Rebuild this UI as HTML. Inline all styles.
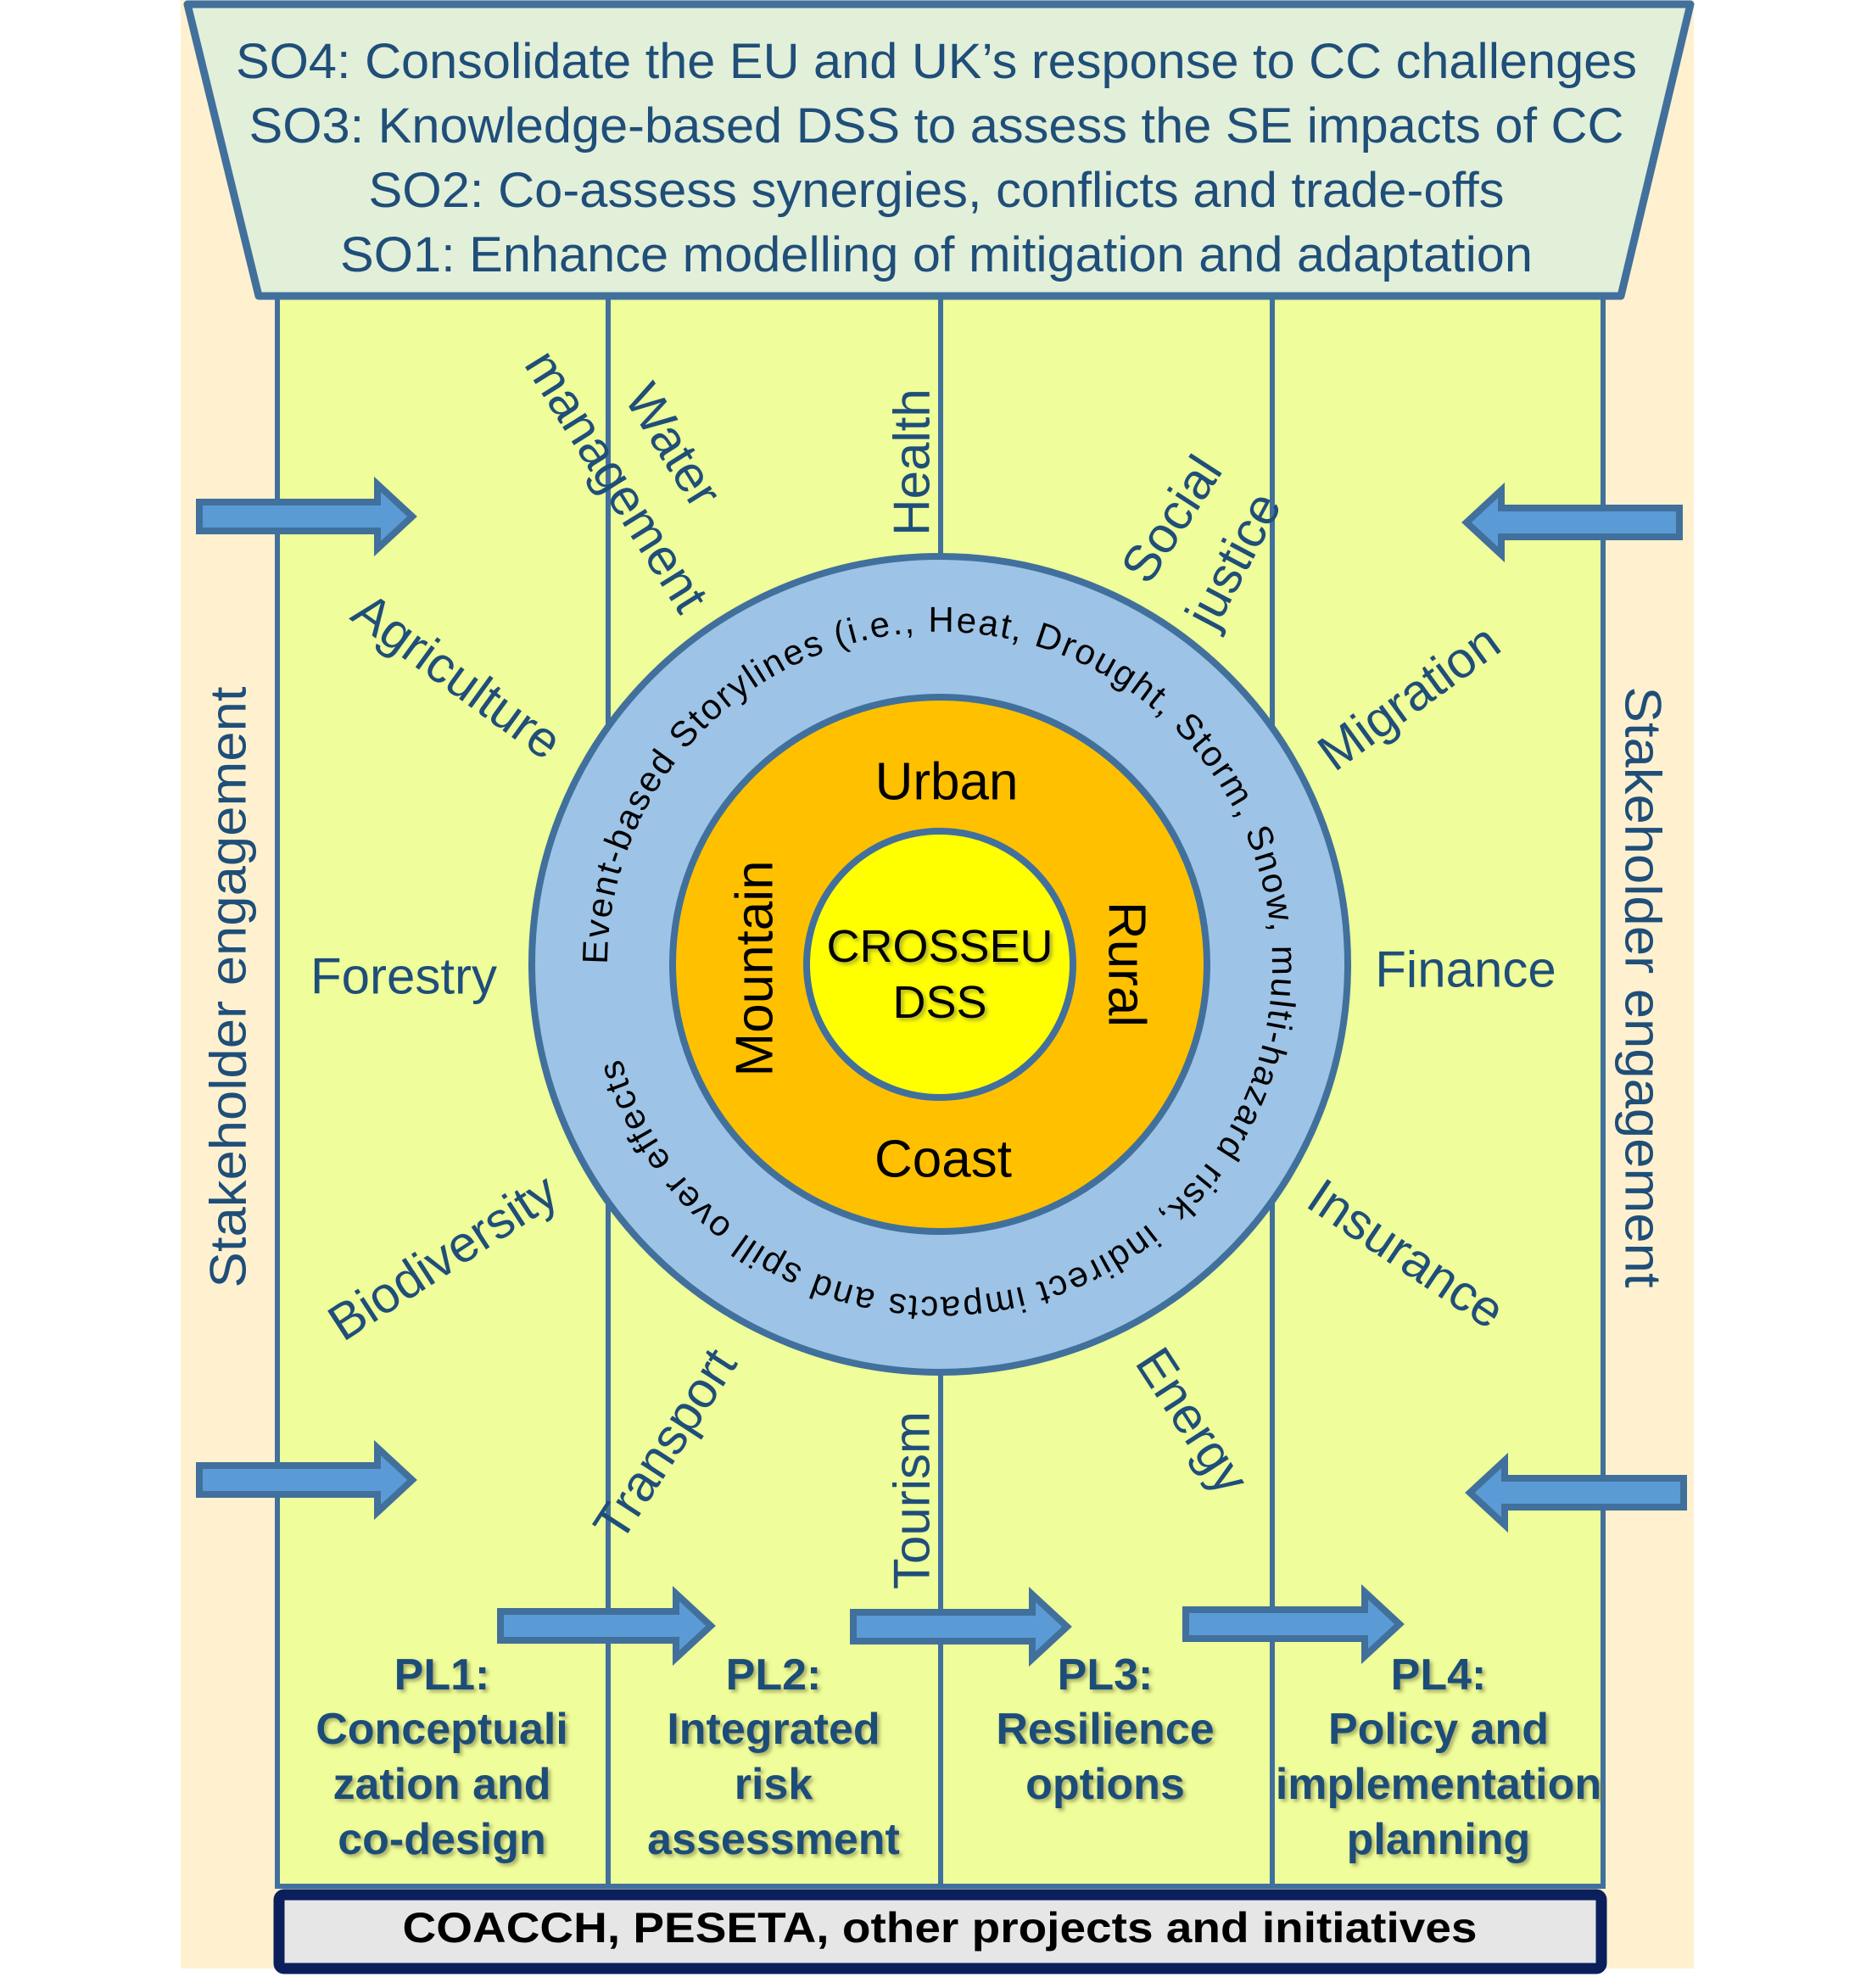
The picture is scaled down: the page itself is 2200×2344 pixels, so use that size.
<!DOCTYPE html>
<html><head><meta charset="utf-8"><style>
html,body{margin:0;padding:0;background:#fff}
svg{display:block}
text{font-family:"Liberation Sans",Arial,sans-serif}
</style></head><body>
<svg width="2200" height="2344" viewBox="0 0 2200 2344" xmlns="http://www.w3.org/2000/svg">
<defs>
<filter id="sh" x="-10%" y="-10%" width="130%" height="140%">
<feDropShadow dx="3" dy="3" stdDeviation="2" flood-color="#7a7a40" flood-opacity="0.6"/>
</filter>
<path id="ring" d="M 716,1137 A 392,392 0 1 1 1500,1137 A 392,392 0 1 1 716,1137"/>
</defs>
<rect x="213" y="0" width="1784" height="2321" fill="#fff1cf"/>
<rect x="327" y="349" width="1563" height="1875" fill="#effd9a" stroke="#41709c" stroke-width="6"/>
<g stroke="#41709c" stroke-width="6">
<line x1="717" y1="349" x2="717" y2="2224"/>
<line x1="1109" y1="349" x2="1109" y2="2224"/>
<line x1="1500" y1="349" x2="1500" y2="2224"/>
</g>
<polygon points="221,5 1993,5 1911,349 305,349" fill="#e2efd9" stroke="#41709c" stroke-width="9" stroke-linejoin="round"/>
<g fill="#1f4e79" font-size="58" text-anchor="middle">
<text x="1104" y="92" textLength="1652" lengthAdjust="spacingAndGlyphs">SO4: Consolidate the EU and UK’s response to CC challenges</text>
<text x="1104" y="168" textLength="1621" lengthAdjust="spacingAndGlyphs">SO3: Knowledge-based DSS to assess the SE impacts of CC</text>
<text x="1104" y="244" textLength="1339" lengthAdjust="spacingAndGlyphs">SO2: Co-assess synergies, conflicts and trade-offs</text>
<text x="1104" y="320" textLength="1406" lengthAdjust="spacingAndGlyphs">SO1: Enhance modelling of mitigation and adaptation</text>
</g>
<!-- arrows -->
<g fill="#5b9bd5" stroke="#41709c" stroke-width="8" stroke-linejoin="miter">
<path d="M235,592 L445,592 L445,571 L486,609 L445,647 L445,626 L235,626 Z"/>
<path d="M235,1728 L445,1728 L445,1707 L486,1745 L445,1783 L445,1762 L235,1762 Z"/>
<path d="M1980,599 L1770,599 L1770,578 L1729,616 L1770,654 L1770,633 L1980,633 Z"/>
<path d="M1985,1743 L1774,1743 L1774,1722 L1733,1760 L1774,1798 L1774,1777 L1985,1777 Z"/>
<path d="M590,1900 L797,1900 L797,1879 L838,1917 L797,1955 L797,1934 L590,1934 Z"/>
<path d="M1006,1901 L1217,1901 L1217,1880 L1258,1918 L1217,1956 L1217,1935 L1006,1935 Z"/>
<path d="M1398,1898 L1609,1898 L1609,1877 L1650,1915 L1609,1953 L1609,1932 L1398,1932 Z"/>
</g>
<!-- circles -->
<circle cx="1108" cy="1137" r="481" fill="#9dc3e6" stroke="#41709c" stroke-width="8"/>
<circle cx="1108" cy="1137" r="315" fill="#ffc000" stroke="#41709c" stroke-width="8"/>
<circle cx="1108" cy="1137" r="157" fill="#ffff00" stroke="#41709c" stroke-width="8"/>
<text font-size="42" fill="#000"><textPath href="#ring" textLength="2350" lengthAdjust="spacing">Event-based Storylines (i.e., Heat, Drought, Storm, Snow, multi-hazard risk, indirect impacts and spill over effects</textPath></text>
<g fill="#000" font-size="62" text-anchor="middle" dominant-baseline="central">
<text x="1116" y="922">Urban</text>
<text x="1112" y="1367">Coast</text>
<text transform="translate(890,1142) rotate(-90)">Mountain</text>
<text transform="translate(1328,1137) rotate(90)">Rural</text>
</g>
<g fill="#000" font-size="54" text-anchor="middle" filter="url(#sh)">
<text x="1108" y="1134">CROSSEU</text>
<text x="1108" y="1200">DSS</text>
</g>
<!-- sector labels -->
<g fill="#1f4e79" font-size="60" text-anchor="middle" dominant-baseline="central">
<text x="476" y="1151">Forestry</text>
<text x="1728" y="1143">Finance</text>
<text transform="translate(1075,545) rotate(-90)">Health</text>
<text transform="translate(1075,1769) rotate(-90)">Tourism</text>
<text transform="translate(539,797) rotate(36)">Agriculture</text>
<text transform="translate(794,525) rotate(58)">Water</text>
<text transform="translate(727,567) rotate(58)">management</text>
<text transform="translate(1381,612) rotate(-57)">Social</text>
<text transform="translate(1454,660) rotate(-62)">justice</text>
<text transform="translate(1661,822) rotate(-36)">Migration</text>
<text transform="translate(1658,1478) rotate(34)">Insurance</text>
<text transform="translate(1406,1675) rotate(57)">Energy</text>
<text transform="translate(784,1703) rotate(-57)">Transport</text>
<text transform="translate(522,1482) rotate(-33)">Biodiversity</text>
<text transform="translate(269,1164) rotate(-90)" textLength="709" lengthAdjust="spacingAndGlyphs">Stakeholder engagement</text>
<text transform="translate(1937,1164) rotate(90)" textLength="709" lengthAdjust="spacingAndGlyphs">Stakeholder engagement</text>
</g>
<!-- PL labels -->
<g fill="#1f4e79" font-size="52" font-weight="bold" text-anchor="middle" dominant-baseline="central" filter="url(#sh)">
<text x="521" y="1975">PL1:</text>
<text x="521" y="2039">Conceptuali</text>
<text x="521" y="2104">zation and</text>
<text x="521" y="2169">co-design</text>
<text x="912" y="1975">PL2:</text>
<text x="912" y="2039">Integrated</text>
<text x="912" y="2104">risk</text>
<text x="912" y="2169">assessment</text>
<text x="1303" y="1975">PL3:</text>
<text x="1303" y="2039">Resilience</text>
<text x="1303" y="2104">options</text>
<text x="1696" y="1975">PL4:</text>
<text x="1696" y="2039">Policy and</text>
<text x="1696" y="2104">implementation</text>
<text x="1696" y="2169">planning</text>
</g>
<rect x="329" y="2234" width="1559" height="87" rx="6" fill="#e6e6e6" stroke="#0b1f5c" stroke-width="13"/>
<text x="1108" y="2290" font-size="50" font-weight="bold" text-anchor="middle" fill="#000" textLength="1267" lengthAdjust="spacingAndGlyphs">COACCH, PESETA, other projects and initiatives</text>
</svg>
</body></html>
